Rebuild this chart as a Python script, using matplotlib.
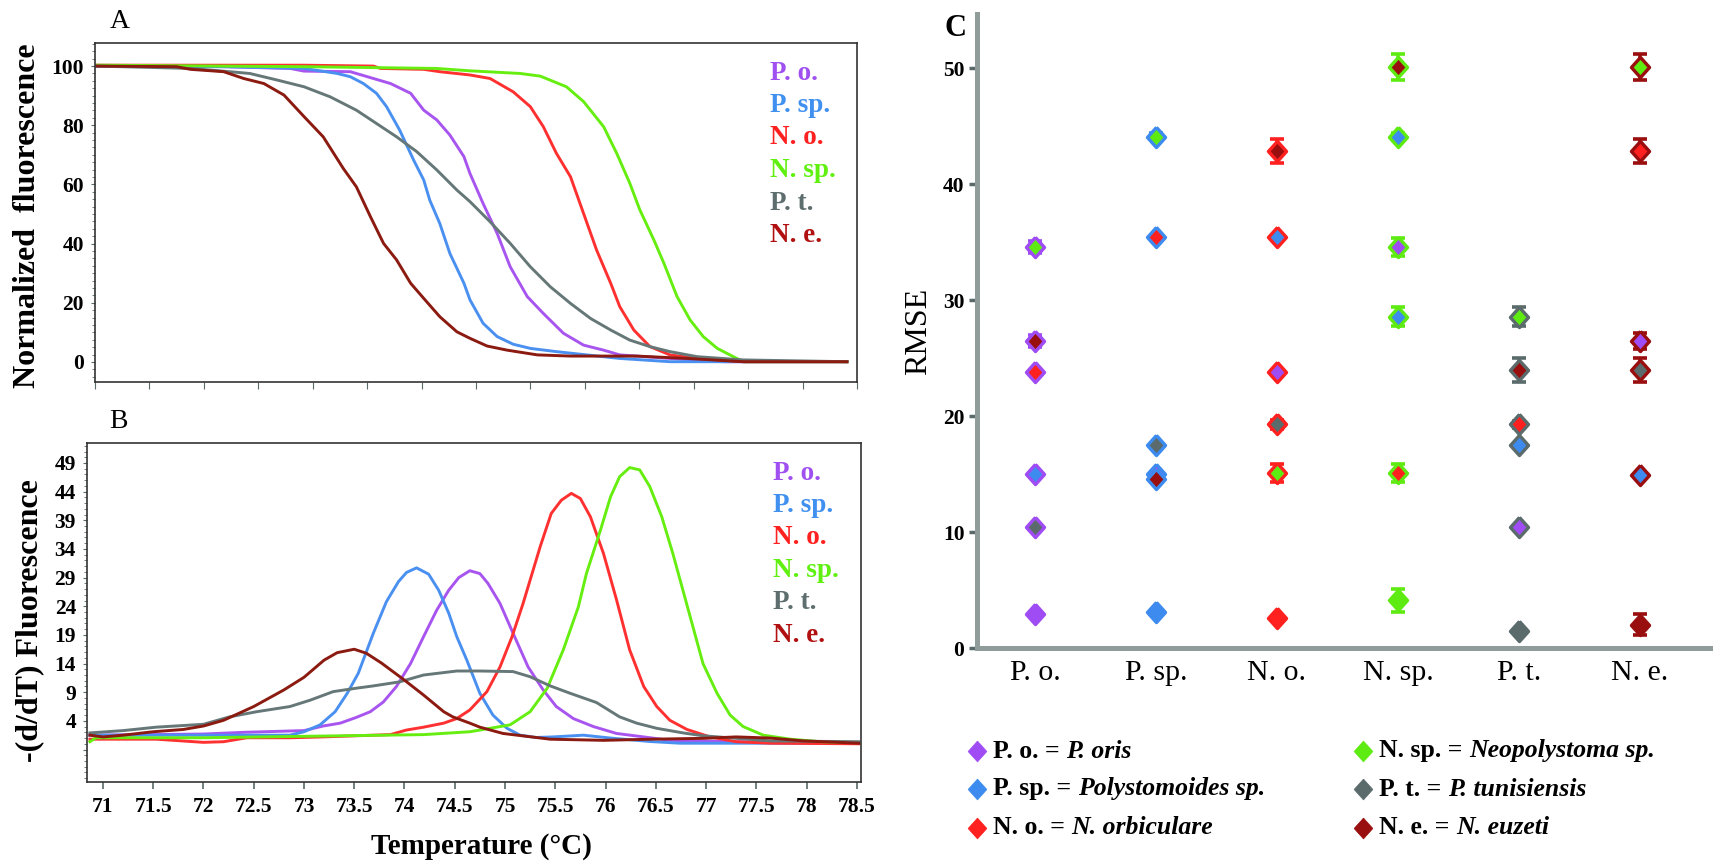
import matplotlib
matplotlib.use('Agg')
import matplotlib.pyplot as plt
import numpy as np
from matplotlib.ticker import MultipleLocator, FixedLocator

plt.rcParams['font.family'] = ['Liberation Serif', 'DejaVu Serif']

# ---------------- data ----------------
species = ['P. o.', 'P. sp.', 'N. o.', 'N. sp.', 'P. t.', 'N. e.']
full_names = ['P. oris', 'Polystomoides sp.', 'N. orbiculare',
              'Neopolystoma sp.', 'P. tunisiensis', 'N. euzeti']

# Panel A : normalized fluorescence (temperature, value)
po_T_a = [70.87, 72.2, 72.86, 73.0, 73.46, 73.69, 73.86, 74.06, 74.19, 74.32, 74.45, 74.59, 74.65, 74.78,
          74.92, 75.05, 75.22, 75.38, 75.58, 75.78, 75.98, 76.14, 76.64, 77.17, 78.4]
po_v_a = [100, 99.8, 99.2, 98.3, 98.1, 95.8, 94.1, 90.8, 85.1, 81.8, 76.7, 69.4, 63.7, 53.6,
          43.5, 32.2, 22.1, 16.4, 9.7, 5.7, 4.0, 2.4, 1.2, 0.1, 0.1]
psp_T_a = [70.94, 72.2, 73.0, 73.33, 73.46, 73.59, 73.72, 73.82, 73.95, 74.09, 74.19, 74.25, 74.35, 74.45,
           74.59, 74.65, 74.78, 74.92, 75.08, 75.25, 75.51, 75.81, 76.14, 76.64, 78.4]
psp_v_a = [100, 99.8, 99.2, 97.5, 96.4, 94.1, 90.8, 86.3, 78.4, 68.2, 61.5, 54.7, 46.8, 36.7,
           26.6, 21.0, 13.1, 8.6, 6.0, 4.6, 3.5, 2.4, 1.2, 0.1, 0.1]
no_T_a = [70.94, 73.0, 73.69, 73.76, 74.19, 74.35, 74.65, 74.85, 75.08, 75.25, 75.38, 75.51, 75.65, 75.78,
          75.91, 76.05, 76.14, 76.28, 76.44, 76.64, 76.91, 77.37, 78.4]
no_v_a = [100.3, 100.3, 100, 99.2, 98.9, 98.1, 97.0, 95.8, 91.3, 86.3, 79.5, 70.5, 62.6, 50.2,
          37.8, 26.6, 18.7, 10.8, 5.2, 2.4, 1.2, 0.1, 0.1]
nsp_T_a = [70.94, 73.0, 74.32, 74.65, 75.15, 75.35, 75.61, 75.78, 75.98, 76.11, 76.24, 76.34, 76.48, 76.58,
           76.71, 76.84, 76.97, 77.11, 77.27, 77.37, 78.4]
nsp_v_a = [100.3, 99.8, 99.2, 98.4, 97.5, 96.6, 93.0, 88.0, 79.5, 70.5, 60.4, 51.4, 41.2, 33.3,
           22.1, 14.2, 8.6, 4.6, 1.8, 0.1, 0.1]
pt_T_a = [70.94, 71.87, 72.26, 72.46, 72.73, 73.0, 73.26, 73.52, 73.72, 73.92, 74.12, 74.32, 74.52, 74.65,
          74.85, 75.05, 75.25, 75.45, 75.65, 75.85, 76.05, 76.24, 76.44, 76.64, 76.91, 77.37, 78.4]
pt_v_a = [100, 99.2, 98.1, 97.5, 95.3, 93.0, 89.6, 85.1, 80.6, 76.1, 71.1, 64.9, 58.1, 54.2,
          47.4, 40.1, 32.2, 25.4, 19.8, 14.7, 10.8, 7.4, 5.2, 3.5, 1.8, 0.7, 0.1]
ne_T_a = [70.94, 71.73, 71.87, 72.2, 72.4, 72.6, 72.8, 73.0, 73.19, 73.39, 73.52, 73.66, 73.79, 73.92,
          74.06, 74.19, 74.35, 74.52, 74.65, 74.82, 75.02, 75.32, 75.65, 76.31, 76.81, 77.37, 78.4]
ne_v_a = [100, 99.8, 98.9, 98.1, 95.8, 94.1, 90.2, 82.9, 76.1, 65.4, 59.2, 49.1, 40.1, 34.5,
          26.6, 21.5, 15.3, 10.2, 8.0, 5.4, 4.0, 2.4, 2.0, 2.0, 1.2, 0.1, 0.1]

# Panel B : -(d/dT) fluorescence (temperature, value)
po_T_b = [70.87, 72.0, 72.4, 73.0, 73.19, 73.36, 73.52, 73.66, 73.79, 73.92, 74.06, 74.19, 74.32, 74.44,
          74.54, 74.65, 74.75, 74.83, 74.95, 75.08, 75.23, 75.38, 75.51, 75.68, 75.88, 76.11, 76.38, 76.64,
          77.3, 78.52]
po_v_b = [1.5, 1.7, 2.0, 2.3, 3.1, 3.6, 4.6, 5.6, 7.3, 10.0, 14.0, 18.7, 23.3, 26.8,
          29.0, 30.2, 29.7, 28.0, 24.5, 19.3, 13.4, 9.4, 6.5, 4.4, 3.0, 1.8, 1.2, 0.6,
          0.36, 0.1]
psp_T_b = [70.87, 72.0, 72.86, 73.0, 73.16, 73.31, 73.43, 73.54, 73.69, 73.82, 73.94, 74.02, 74.12, 74.24,
           74.34, 74.44, 74.52, 74.62, 74.75, 74.88, 75.02, 75.15, 75.31, 75.48, 75.78, 76.05, 76.44, 76.74,
           77.3, 78.52]
psp_v_b = [1.5, 1.5, 1.5, 2.1, 3.3, 5.6, 8.8, 12.3, 19.3, 24.8, 28.3, 29.9, 30.7, 29.6,
           26.8, 22.8, 18.7, 14.6, 8.8, 5.0, 2.7, 1.5, 1.1, 1.2, 1.5, 1.0, 0.4, 0.1,
           0.1, 0.1]
no_T_b = [70.87, 71.53, 72.0, 72.2, 72.43, 72.86, 73.19, 73.86, 74.02, 74.19, 74.39, 74.52, 74.65, 74.82,
          74.95, 75.07, 75.18, 75.35, 75.46, 75.56, 75.66, 75.75, 75.85, 75.98, 76.11, 76.24, 76.38, 76.51,
          76.64, 76.81, 77.04, 77.3, 77.64, 78.52]
no_v_b = [0.8, 0.8, 0.25, 0.36, 1.05, 1.05, 1.2, 1.6, 2.4, 2.9, 3.6, 4.4, 5.9, 9.1,
          13.4, 18.7, 24.5, 34.4, 40.2, 42.5, 43.7, 42.8, 39.6, 33.2, 25.1, 16.4, 10.0, 6.5,
          4.1, 2.5, 1.2, 0.36, 0.1, 0.0]
nsp_T_b = [70.87, 70.93, 72.0, 73.19, 74.19, 74.65, 75.05, 75.25, 75.42, 75.58, 75.73, 75.81, 75.95, 76.05,
           76.14, 76.24, 76.34, 76.44, 76.56, 76.67, 76.77, 76.87, 76.97, 77.11, 77.24, 77.37, 77.57, 77.84,
           78.14, 78.52]
nsp_v_b = [0.36, 1.05, 1.05, 1.35, 1.6, 2.1, 3.3, 5.6, 9.7, 16.4, 23.9, 29.7, 37.3, 43.1,
           46.6, 48.2, 47.8, 44.9, 39.6, 33.2, 26.8, 20.4, 14.0, 8.8, 5.0, 3.0, 1.5, 0.8,
           0.36, 0.2]
pt_T_b = [70.87, 71.2, 71.53, 72.0, 72.26, 72.53, 72.86, 73.06, 73.29, 73.52, 73.69, 73.95, 74.19, 74.52,
          74.75, 75.08, 75.25, 75.45, 75.65, 75.91, 76.14, 76.31, 76.51, 76.77, 76.97, 77.3, 77.64, 78.52]
pt_v_b = [1.9, 2.3, 2.9, 3.4, 4.7, 5.6, 6.5, 7.6, 9.1, 9.7, 10.1, 10.8, 12.0, 12.7,
          12.7, 12.6, 11.7, 10.1, 8.8, 7.2, 4.7, 3.6, 2.7, 1.9, 1.4, 0.95, 0.5, 0.36]
ne_T_b = [70.87, 71.0, 71.2, 71.5, 71.8, 72.0, 72.2, 72.5, 72.8, 73.0, 73.2, 73.33, 73.5, 73.62,
          73.77, 74.0, 74.19, 74.39, 74.48, 74.65, 74.75, 74.98, 75.45, 75.98, 76.46, 76.97, 77.3, 77.64,
          77.97, 78.52]
ne_v_b = [1.5, 1.2, 1.5, 2.1, 2.5, 3.1, 4.1, 6.5, 9.4, 11.6, 14.6, 15.9, 16.5, 15.8,
          14.1, 11.1, 8.5, 5.6, 4.7, 3.6, 2.9, 1.8, 0.8, 0.6, 0.8, 0.95, 1.2, 1.0,
          0.5, 0.1]

# Panel C : RMSE of each column species against (P.o., P.sp., N.o., N.sp., P.t., N.e.)
rmse_po = [2.9, 15.0, 23.8, 34.6, 10.4, 26.5]
err_po = [0, 0, 0, 0.5, 0, 0.5]
inner_po = [0, 1, 2, 3, 4, 5]
rmse_psp = [15.0, 3.1, 35.5, 44.1, 17.5, 14.6]
err_psp = [0, 0, 0, 0.3, 0, 0]
inner_psp = [0, 1, 2, 3, 4, 5]
rmse_no = [23.8, 35.5, 2.6, 15.1, 19.3, 42.9]
err_no = [0, 0, 0, 0.8, 0.4, 1.05]
inner_no = [0, 1, 2, 3, 4, 5]
rmse_nsp = [34.6, 44.1, 15.1, 4.1, 28.6, 50.1]
err_nsp = [0.8, 0.3, 0.8, 1.0, 0.8, 1.12]
inner_nsp = [0, 1, 2, 3, 1, 5]
rmse_pt = [10.4, 17.5, 19.3, 28.6, 1.5, 24.0]
err_pt = [0, 0, 0.3, 0.8, 0, 1.03]
inner_pt = [0, 1, 2, 3, 4, 5]
rmse_ne = [26.5, 14.9, 42.9, 50.1, 24.0, 2.0]
err_ne = [0.7, 0, 1.05, 1.12, 1.03, 0.9]
inner_ne = [0, 1, 2, 3, 4, 5]

# ---------------- styles ----------------
curve_cols = ['#A855F0', '#4A90F0', '#FF3030', '#66EE11', '#667777', '#8B1A10']
text_cols = ['#A050F0', '#4090F0', '#FF2020', '#60F010', '#5E6E6E', '#B01010']
mark_cols = ['#A04CF5', '#3E8BF0', '#FF2020', '#5EEB12', '#5B6B6B', '#990E0E']
diamond = [(0, 1), (0.9, 0), (0, -1), (-0.9, 0), (0, 1)]

W, H = 1724, 864
fig = plt.figure(figsize=(W / 100, H / 100), dpi=100)


def ax_px(l, t, r, b):
    return fig.add_axes([l / W, 1 - b / H, (r - l) / W, (b - t) / H])


def fx(x):
    return x / W


def fy(y):
    return 1 - y / H


frame_col = '#333333'
tick_col = '#5a6a6a'

# ---------------- Panel A ----------------
axa = ax_px(95, 43, 857, 382)
curvesA = [(po_T_a, po_v_a), (psp_T_a, psp_v_a), (no_T_a, no_v_a),
           (nsp_T_a, nsp_v_a), (pt_T_a, pt_v_a), (ne_T_a, ne_v_a)]
for i, (t, v) in enumerate(curvesA):
    axa.plot(t, v, color=curve_cols[i], lw=2.1, solid_joinstyle='round')
axa.set_xlim(70.92, 78.50)
axa.set_ylim(-6.76, 107.8)
axa.xaxis.set_major_locator(FixedLocator(np.linspace(70.92, 78.50, 15)))
axa.set_xticklabels([])
axa.yaxis.set_major_locator(FixedLocator([0, 20, 40, 60, 80, 100]))
axa.yaxis.set_minor_locator(MultipleLocator(2.5))
for lab in axa.get_yticklabels():
    lab.set_fontweight('bold')
axa.tick_params(axis='y', which='major', labelsize=15.5, length=3, color=tick_col, pad=5)
axa.tick_params(axis='y', which='minor', length=2, color=tick_col)
axa.tick_params(axis='x', which='major', length=5, color=tick_col)
for s in axa.spines.values():
    s.set_color(frame_col)
    s.set_linewidth(1.2)

# ---------------- Panel B ----------------
axb = ax_px(87, 443, 861, 782)
curvesB = [(po_T_b, po_v_b), (psp_T_b, psp_v_b), (no_T_b, no_v_b),
           (nsp_T_b, nsp_v_b), (pt_T_b, pt_v_b), (ne_T_b, ne_v_b)]
for i, (t, v) in enumerate(curvesB):
    axb.plot(t, v, color=curve_cols[i], lw=2.1, solid_joinstyle='round')
axb.set_xlim(70.841, 78.542)
axb.set_ylim(-6.67, 52.49)
xt = np.arange(71, 78.51, 0.5)
axb.xaxis.set_major_locator(FixedLocator(xt))
axb.set_xticklabels([('%g' % v) for v in xt], fontweight='bold')
axb.yaxis.set_major_locator(FixedLocator(list(range(-1, 50, 5))))
axb.set_yticklabels([''] + [str(v) for v in range(4, 50, 5)], fontweight='bold')
axb.yaxis.set_minor_locator(MultipleLocator(1))
axb.tick_params(axis='y', which='major', labelsize=15.5, length=3, color=tick_col, pad=5)
axb.tick_params(axis='y', which='minor', length=2, color=tick_col)
axb.tick_params(axis='x', which='major', labelsize=15.5, length=5, width=1.2, color=tick_col, pad=6)
for s in axb.spines.values():
    s.set_color(frame_col)
    s.set_linewidth(1.2)

# panel legends A/B
for i, name in enumerate(species):
    fig.text(fx(770), fy(73 + 32.5 * i), name, color=text_cols[i], fontsize=19.5,
             fontweight='bold', ha='left', va='center')
    fig.text(fx(773), fy(473 + 32.4 * i), name, color=text_cols[i], fontsize=19.5,
             fontweight='bold', ha='left', va='center')

fig.text(fx(120), fy(22), 'A', fontsize=20, ha='center', va='center')
fig.text(fx(118), fy(422), 'B', fontsize=20, ha='center', va='center')
fig.text(fx(28), fy(216), 'Normalized  fluorescence', fontsize=23, fontweight='bold',
         rotation=90, ha='center', va='center')
fig.text(fx(30), fy(621), '-(d/dT) Fluorescence', fontsize=23, fontweight='bold',
         rotation=90, ha='center', va='center')
fig.text(fx(481), fy(847), 'Temperature (\u00b0C)', fontsize=21, fontweight='bold',
         ha='center', va='center')

# ---------------- Panel C ----------------
axc = ax_px(977, 14, 1710, 648)
spine_col = '#909C9A'
rmse_all = [rmse_po, rmse_psp, rmse_no, rmse_nsp, rmse_pt, rmse_ne]
err_all = [err_po, err_psp, err_no, err_nsp, err_pt, err_ne]
inner_all = [inner_po, inner_psp, inner_no, inner_nsp, inner_pt, inner_ne]
for ci in range(6):
    for k in range(6):
        v = rmse_all[ci][k]
        e = err_all[ci][k]
        if e > 0:
            axc.errorbar([ci], [v], yerr=[e], fmt='none', ecolor=mark_cols[ci],
                         elinewidth=2.6, capsize=5, capthick=2.6, zorder=2, clip_on=False)
        axc.plot([ci], [v], marker=diamond, ms=14.5, mfc=mark_cols[inner_all[ci][k]],
                 mec=mark_cols[ci], mew=2.4, ls='none', zorder=3 + k, clip_on=False)
axc.set_xlim(-0.48, 5.58)
axc.set_ylim(0, 54.7)
axc.set_xticks(range(6))
axc.set_xticklabels(species, fontsize=21.5)
axc.tick_params(axis='x', length=0, pad=9)
axc.set_yticks([0, 10, 20, 30, 40, 50])
axc.set_yticklabels(['0', '10', '20', '30', '40', '50'], fontweight='bold')
axc.tick_params(axis='y', length=6, width=2.5, color=tick_col, labelsize=15.5, pad=3)
for side in ['top', 'right']:
    axc.spines[side].set_visible(False)
for side in ['left', 'bottom']:
    axc.spines[side].set_color(spine_col)
    axc.spines[side].set_linewidth(3.6)
axc.set_ylabel('RMSE', fontsize=23, labelpad=7)
fig.text(fx(956), fy(29), 'C', fontsize=22, fontweight='bold', ha='center', va='center')

# ---------------- Panel C legend ----------------
axl = fig.add_axes([0, 0, 1, 1], facecolor='none')
axl.set_xlim(0, W)
axl.set_ylim(H, 0)
axl.axis('off')
fig.canvas.draw()
renderer = fig.canvas.get_renderer()
leg_pos = [(977, 751), (977, 789), (977, 828), (1363, 751), (1363, 789), (1363, 828)]
for i in range(6):
    mx, my = leg_pos[i]
    axl.plot([mx], [my], marker=diamond, ms=15, mfc=mark_cols[i], mec=mark_cols[i],
             mew=0.5, ls='none')
    t1 = axl.text(mx + 16, my, species[i] + ' = ', fontsize=18.5, fontweight='bold',
                  ha='left', va='center')
    bb = t1.get_window_extent(renderer=renderer)
    x2 = bb.x1  # display pixels; axl x data equals pixels
    axl.text(x2, my, full_names[i], fontsize=18.5, fontweight='bold', fontstyle='italic',
             ha='left', va='center')

fig.savefig('out.png', dpi=100)
